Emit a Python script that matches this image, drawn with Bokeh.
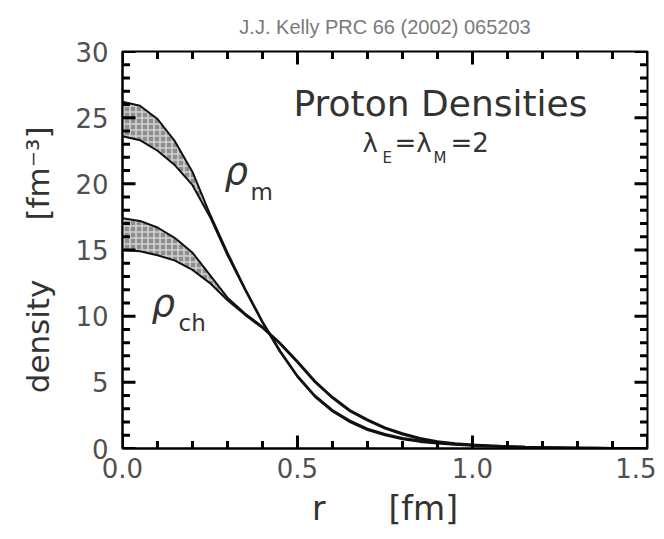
from bokeh.plotting import figure
from bokeh.models import Label, Range1d, FixedTicker, NumeralTickFormatter
from bokeh.embed import file_html
from bokeh.resources import INLINE

# ---- data ----
r = [0.0, 0.05, 0.1, 0.15, 0.2, 0.25, 0.3, 0.35, 0.4, 0.45, 0.5, 0.55, 0.6, 0.65, 0.7,
     0.75, 0.8, 0.85, 0.9, 0.95, 1.0, 1.05, 1.1, 1.15, 1.2, 1.25, 1.3, 1.35, 1.4, 1.45, 1.5]
rho_m_upper = [26.2, 25.9, 24.9, 23.2, 20.9, 17.7, 14.8, 12.1, 9.6, 7.4, 5.5, 4.0, 2.9, 2.1, 1.5,
               1.1, 0.8, 0.6, 0.45, 0.35, 0.27, 0.22, 0.17, 0.13, 0.10, 0.08, 0.06, 0.05, 0.04, 0.03, 0.02]
rho_m_lower = [23.6, 23.3, 22.5, 21.4, 19.9, 17.5, 14.6, 12.0, 9.5, 7.3, 5.4, 3.9, 2.8, 2.0, 1.4,
               1.0, 0.7, 0.5, 0.37, 0.28, 0.21, 0.16, 0.12, 0.09, 0.07, 0.05, 0.04, 0.03, 0.02, 0.015, 0.01]
rho_ch_upper = [17.4, 17.2, 16.7, 15.9, 14.8, 13.1, 11.4, 10.2, 9.2, 8.0, 6.6, 5.1, 3.9, 2.9, 2.2,
                1.6, 1.15, 0.8, 0.55, 0.4, 0.3, 0.23, 0.17, 0.13, 0.1, 0.08, 0.06, 0.05, 0.04, 0.03, 0.02]
rho_ch_lower = [15.0, 14.9, 14.6, 14.2, 13.5, 12.5, 11.2, 10.1, 9.1, 7.9, 6.5, 5.0, 3.8, 2.8, 2.1,
                1.5, 1.05, 0.72, 0.48, 0.33, 0.24, 0.18, 0.13, 0.1, 0.08, 0.06, 0.05, 0.04, 0.03, 0.02, 0.015]

x_major = [0.0, 0.5, 1.0, 1.5]
x_minor = [0.1, 0.2, 0.3, 0.4, 0.6, 0.7, 0.8, 0.9, 1.1, 1.2, 1.3, 1.4]
y_major = [0, 5, 10, 15, 20, 25, 30]
y_minor = [1, 2, 3, 4, 6, 7, 8, 9, 11, 12, 13, 14, 16, 17, 18, 19, 21, 22, 23, 24, 26, 27, 28, 29]

title_text = "J.J. Kelly PRC 66 (2002) 065203"
NB = "\u00a0"
x_label = "r" + NB * 6 + "[fm]"
y_label = "density" + NB * 6 + "[fm\u207b\u00b3]" + NB * 2

FONT = "DejaVu Sans"
TXT = "#333333"
XMIN, XMAX, YMIN, YMAX = 0.0, 1.5, 0.0, 30.0

p = figure(width=656, height=531, output_backend="svg", toolbar_location=None,
           x_range=Range1d(XMIN, XMAX), y_range=Range1d(YMIN, YMAX),
           min_border_left=122, min_border_right=9, min_border_top=50, min_border_bottom=83)
p.xgrid.visible = False
p.ygrid.visible = False
p.outline_line_color = "black"
p.outline_line_width = 2
p.background_fill_color = "white"
p.border_fill_color = "white"

p.title.text = title_text
p.title.align = "center"
p.title.text_font = "Liberation Sans"
p.title.text_font_size = "20px"
p.title.text_font_style = "normal"
p.title.text_color = "#7a7a7a"
p.title.standoff = 27


def style_axis(ax, ticks):
    ax.ticker = FixedTicker(ticks=ticks)
    ax.axis_line_width = 2
    ax.axis_line_color = "black"
    ax.major_tick_in = 0
    ax.major_tick_out = 0
    ax.minor_tick_in = 0
    ax.minor_tick_out = 0
    ax.major_tick_line_color = None
    ax.minor_tick_line_color = None
    ax.major_label_text_font = FONT
    ax.major_label_text_font_size = "26px"
    ax.major_label_text_color = "#505050"
    ax.axis_label_text_font = FONT
    ax.axis_label_text_font_style = "normal"
    ax.axis_label_text_color = TXT


xa = p.xaxis[0]
style_axis(xa, x_major)
xa.formatter = NumeralTickFormatter(format="0.0")
xa.major_label_standoff = 9
xa.axis_label = x_label
xa.axis_label_text_font_size = "33px"
xa.axis_label_standoff = 8

ya = p.yaxis[0]
style_axis(ya, y_major)
ya.major_label_standoff = 14
ya.axis_label = y_label
ya.axis_label_text_font_size = "31px"
ya.axis_label_standoff = 16

# bands
for up, lo in ((rho_m_upper, rho_m_lower), (rho_ch_upper, rho_ch_lower)):
    p.varea(x=r, y1=lo, y2=up, fill_color="#8e8e8e", fill_alpha=1.0,
            hatch_pattern="cross", hatch_color="white", hatch_alpha=0.6,
            hatch_scale=6, hatch_weight=1.6)
    p.line(r, up, line_color="#111111", line_width=2)
    p.line(r, lo, line_color="#111111", line_width=2)

# inward ticks: dash markers centred on the frame edges (outer half clipped)
VERT = 1.5708
TICK = "#000000"
p.scatter(x=list(x_major), y=[YMIN] * len(x_major), marker="dash", size=26, angle=VERT,
          line_color=TICK, line_width=3)
p.scatter(x=list(x_minor), y=[YMIN] * len(x_minor), marker="dash", size=15, angle=VERT,
          line_color=TICK, line_width=3)
p.scatter(x=list(x_major), y=[YMAX] * len(x_major), marker="dash", size=26, angle=VERT,
          line_color=TICK, line_width=3)
p.scatter(x=list(x_minor), y=[YMAX] * len(x_minor), marker="dash", size=15, angle=VERT,
          line_color=TICK, line_width=3)
p.scatter(x=[XMIN] * len(y_major), y=list(y_major), marker="dash", size=26,
          line_color=TICK, line_width=3)
p.scatter(x=[XMIN] * len(y_minor), y=list(y_minor), marker="dash", size=15,
          line_color=TICK, line_width=3)
p.scatter(x=[XMAX] * len(y_major), y=list(y_major), marker="dash", size=26,
          line_color=TICK, line_width=3)
p.scatter(x=[XMAX] * len(y_minor), y=list(y_minor), marker="dash", size=15,
          line_color=TICK, line_width=3)


# annotation helpers: page pixel -> data coordinates
def px(xp):
    return (xp - 122) * (XMAX - XMIN) / 525.0


def py(yp):
    return (448 - yp) * (YMAX - YMIN) / 398.0


def lab(text, xp, yp, size, style="normal", align="left"):
    shift = 0.4 * size  # baseline correction for the svg text placement
    p.add_layout(Label(x=px(xp), y=py(yp - shift), text=text, text_font=FONT,
                       text_font_size=f"{size}px", text_font_style=style, text_color=TXT,
                       text_align=align, text_baseline="alphabetic"))


lab("Proton Densities", 440, 117, 36, align="center")
lab("\u03bb", 362, 151.7, 26)
lab("E", 382, 163, 15)
lab("=\u03bb", 394, 151.7, 26)
lab("M", 433, 163, 15)
lab("=2", 450, 151.7, 26)

lab("\u03c1", 224, 185, 37, style="italic")
lab("m", 250, 200, 23)
lab("\u03c1", 151, 317, 37, style="italic")
lab("ch", 178, 331.5, 23)

open("out.html", "w").write(file_html(p, INLINE))
